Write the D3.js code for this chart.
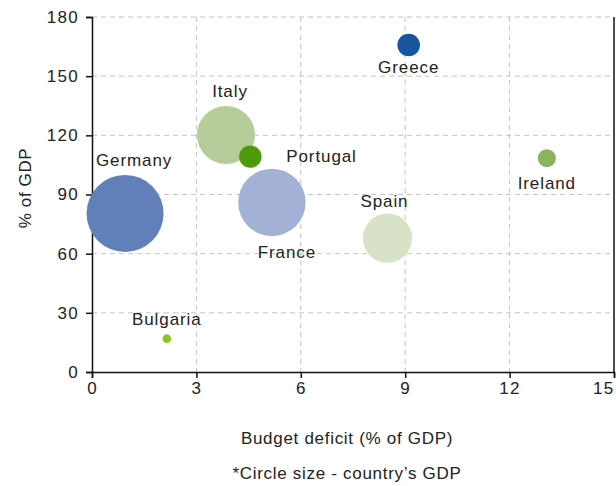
<!DOCTYPE html>
<html>
<head>
<meta charset="utf-8">
<script src="https://cdn.jsdelivr.net/npm/d3@7"></script>
<style>
  html, body { margin: 0; padding: 0; background: #fff; }
  svg { display: block; }
  text { font-family: "Liberation Sans", Arial, sans-serif; fill: #222; }
</style>
</head>
<body>
<svg id="chart" width="616" height="486"></svg>
<script>
// ---- data ----
const countries = ["Germany", "Italy", "Portugal", "France", "Spain", "Greece", "Ireland", "Bulgaria"];
const deficit   = [0.95, 3.85, 4.55, 5.17, 8.49, 9.1, 13.07, 2.15];       // Budget deficit (% of GDP)
const debt      = [80.4, 120.2, 109.2, 86.0, 67.9, 165.8, 108.4, 16.9];   // % of GDP
const gdp       = [3600, 2040, 305, 2760, 1480, 310, 197, 45];            // country GDP (bn)
const xTicks    = [0, 3, 6, 9, 12, 15];
const yTicks    = [0, 30, 60, 90, 120, 150, 180];

// ---- styles / layout ----
const colors = {
  Germany: "#6180b9", Italy: "#b8cc9a", Portugal: "#4f9a0b", France: "#a3b1d6",
  Spain: "#d8e2c6", Greece: "#17569e", Ireland: "#8cb25e", Bulgaria: "#8fc31f"
};
const labelPlace = {
  Germany: {pos: "above", dx: 9, gap: 9},
  Italy: {pos: "above", dx: 4, gap: 9},
  Portugal: {pos: "right", dx: 60, dy: 5},
  France: {pos: "below", dx: 15, gap: 10},
  Spain: {pos: "above", dx: -3, gap: 6},
  Greece: {pos: "below", dx: 0, gap: 5},
  Ireland: {pos: "below", dx: 0, gap: 10},
  Bulgaria: {pos: "above", dx: 0, gap: 9}
};

(function () {
const svg = d3.select("#chart");
const mL = 92, mR = 614, mT = 17, mB = 372;

const x = d3.scaleLinear().domain([0, 15]).range([mL, mR]);
const y = d3.scaleLinear().domain([0, 180]).range([mB, mT]);
const r = d3.scaleSqrt().domain([0, 3600]).range([0, 38.5]);

// grid
const grid = svg.append("g").attr("stroke", "#c4c4c4").attr("stroke-width", 1).attr("stroke-dasharray", "5,4");
grid.selectAll("line.h").data(yTicks.filter(d => d > 0)).join("line").attr("class", "h")
  .attr("x1", mL).attr("x2", mR).attr("y1", d => y(d)).attr("y2", d => y(d));
grid.selectAll("line.v").data(xTicks.filter(d => d > 0 && d < 15)).join("line").attr("class", "v")
  .attr("y1", mT).attr("y2", mB).attr("x1", d => x(d)).attr("x2", d => x(d));

// axes
const fontSize = "17px";
const xAxis = svg.append("g").attr("transform", `translate(0,${mB})`)
  .call(d3.axisBottom(x).tickValues(xTicks).tickSize(6).tickPadding(4).tickFormat(d3.format("d")));
const yAxis = svg.append("g").attr("transform", `translate(${mL},0)`)
  .call(d3.axisLeft(y).tickValues(yTicks).tickSize(6).tickPadding(7).tickFormat(d3.format("d")));
[xAxis, yAxis].forEach(a => {
  a.select(".domain").attr("stroke", "#111").attr("stroke-width", 1.5);
  a.selectAll(".tick line").attr("stroke", "#111").attr("stroke-width", 1.5);
  a.selectAll(".tick text").attr("font-size", fontSize).attr("fill", "#222")
    .attr("font-family", "Liberation Sans, Arial, sans-serif").attr("letter-spacing", "1.3px");
});
xAxis.selectAll(".tick text").filter(d => d === 15).attr("text-anchor", "end").attr("dx", "0px");
svg.append("line").attr("x1", x(15)).attr("x2", x(15)).attr("y1", mT).attr("y2", mB)
  .attr("stroke", "#111").attr("stroke-width", 1.5);

// bubbles
const data = countries.map((c, i) => ({name: c, dx: deficit[i], debt: debt[i], gdp: gdp[i]}));
svg.append("g").selectAll("circle").data(data).join("circle")
  .attr("cx", d => x(d.dx)).attr("cy", d => y(d.debt)).attr("r", d => r(d.gdp))
  .attr("fill", d => colors[d.name]);

// labels
svg.append("g").selectAll("text").data(data).join("text")
  .attr("font-size", fontSize).attr("letter-spacing", "0.9px").attr("text-anchor", "middle")
  .attr("x", d => {
    const p = labelPlace[d.name];
    return x(d.dx) + (p.pos === "right" ? r(d.gdp) + p.dx : p.dx);
  })
  .attr("y", d => {
    const p = labelPlace[d.name], cy = y(d.debt), rr = r(d.gdp);
    if (p.pos === "above") return cy - rr - p.gap;
    if (p.pos === "below") return cy + rr + p.gap + 12;
    return cy + p.dy;
  })
  .text(d => d.name);

// titles
svg.append("text").attr("x", 347).attr("y", 444).attr("text-anchor", "middle")
  .attr("font-size", fontSize).attr("letter-spacing", "0.7px").text("Budget deficit (% of GDP)");
svg.append("text").attr("x", 347).attr("y", 479).attr("text-anchor", "middle")
  .attr("font-size", fontSize).attr("letter-spacing", "0.7px").text("*Circle size - country\u2019s GDP");
svg.append("text").attr("transform", "translate(31,188) rotate(-90)").attr("text-anchor", "middle")
  .attr("font-size", fontSize).attr("letter-spacing", "0.6px").text("% of GDP");
})();
</script>
</body>
</html>
